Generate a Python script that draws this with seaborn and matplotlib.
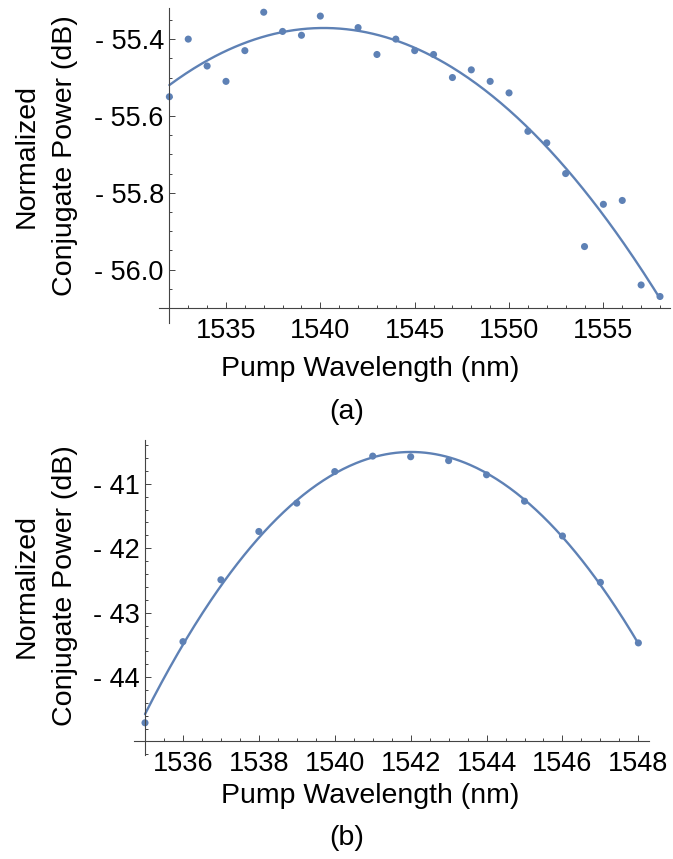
import numpy as np
import pandas as pd
import matplotlib
matplotlib.use("Agg")
import matplotlib.pyplot as plt
import seaborn as sns
from matplotlib.ticker import MultipleLocator, FuncFormatter

# dados (a)
wl_a = [1532, 1533, 1534, 1535, 1536, 1537, 1538, 1539, 1540, 1542, 1543, 1544,
        1545, 1546, 1547, 1548, 1549, 1550, 1551, 1552, 1553, 1554, 1555, 1556,
        1557, 1558]
pw_a = [-55.55, -55.40, -55.47, -55.51, -55.43, -55.33, -55.38, -55.39, -55.34,
        -55.37, -55.44, -55.40, -55.43, -55.44, -55.50, -55.48, -55.51, -55.54,
        -55.64, -55.67, -55.75, -55.94, -55.83, -55.82, -56.04, -56.07]

# dados (b)
wl_b = [1535, 1536, 1537, 1538, 1539, 1540, 1541, 1542, 1543, 1544, 1545, 1546,
        1547, 1548]
pw_b = [-44.71, -43.45, -42.49, -41.74, -41.30, -40.81, -40.57, -40.58, -40.64,
        -40.86, -41.27, -41.81, -42.53, -43.47]

xlabel = "Pump Wavelength (nm)"
ylabel = "Normalized\nConjugate Power (dB)"
captions = ["(a)", "(b)"]

sns.set_style("white")
plt.rcParams['font.family'] = ['Liberation Sans', 'DejaVu Sans']

cor = "#5E81B5"
W, H = 673, 859
fig = plt.figure(figsize=(W / 100, H / 100), dpi=100)


def px_axes(left, top, right, bottom):
    return fig.add_axes([left / W, 1 - bottom / H, (right - left) / W, (bottom - top) / H])


def painel(ax, wl, pw, x0, y0, xlim, ylim, xmaj, xmin, ymaj, ymin, dec):
    df = pd.DataFrame({"wl": wl, "pw": pw})
    # ajuste quadratico (como o Fit do Mathematica)
    coef = np.polyfit(df["wl"], df["pw"], 2)
    xs = np.linspace(min(wl), max(wl), 300)
    fit = pd.DataFrame({"wl": xs, "pw": np.polyval(coef, xs)})
    sns.lineplot(data=fit, x="wl", y="pw", ax=ax, color=cor, lw=1.7)
    sns.scatterplot(data=df, x="wl", y="pw", ax=ax, color=cor, s=26, edgecolor="none")

    ax.set_xlim(*xlim)
    ax.set_ylim(*ylim)
    for s in ["top", "right"]:
        ax.spines[s].set_visible(False)
    ax.spines["left"].set_position(("data", x0))
    ax.spines["bottom"].set_position(("data", y0))
    for s in ["left", "bottom"]:
        ax.spines[s].set_color("#444444")
        ax.spines[s].set_linewidth(0.8)
    ax.xaxis.set_major_locator(MultipleLocator(xmaj))
    ax.xaxis.set_minor_locator(MultipleLocator(xmin))
    ax.yaxis.set_major_locator(MultipleLocator(ymaj))
    ax.yaxis.set_minor_locator(MultipleLocator(ymin))

    # sem rotulo na origem dos eixos, estilo Mathematica
    def fmt_y(v, p):
        if abs(v - y0) < 1e-6:
            return ""
        return f"- {abs(v):.{dec}f}"

    def fmt_x(v, p):
        if abs(v - x0) < 1e-6:
            return ""
        return f"{v:.0f}"

    ax.yaxis.set_major_formatter(FuncFormatter(fmt_y))
    ax.xaxis.set_major_formatter(FuncFormatter(fmt_x))
    ax.tick_params(which="both", direction="in", color="#444444", width=0.7,
                   labelsize=19.5, labelcolor="black", bottom=True, left=True)
    ax.tick_params(which="major", length=4.5)
    ax.tick_params(which="minor", length=2.5)
    ax.tick_params(axis="x", pad=7)
    ax.tick_params(axis="y", pad=4)
    ax.set_xlabel("")
    ax.set_ylabel("")
    ax.patch.set_alpha(0)


ax_a = px_axes(159, 8, 670, 323)
painel(ax_a, wl_a, pw_a, 1532, -56.1, (1531.45, 1558.53), (-56.139, -55.319),
       5, 1, 0.2, 0.05, 1)

ax_b = px_axes(134, 440, 649, 755)
painel(ax_b, wl_b, pw_b, 1535, -45, (1534.71, 1548.28), (-45.21, -40.32),
       2, 0.5, 1, 0.2, 0)

for yl in [156, 586]:
    fig.text(46 / W, 1 - yl / H, ylabel, rotation=90, ha="center", va="center",
             multialignment="center", fontsize=20.5, linespacing=1.65, color="black")
for (xl, cap), txt in zip([(369, 412), (796, 838)], captions):
    fig.text(370 / W, 1 - xl / H, xlabel, ha="center", va="center", fontsize=20.5,
             color="black")
    fig.text(347 / W, 1 - cap / H, txt, ha="center", va="center", fontsize=20.5,
             color="black")

fig.savefig("out.png", dpi=100)
